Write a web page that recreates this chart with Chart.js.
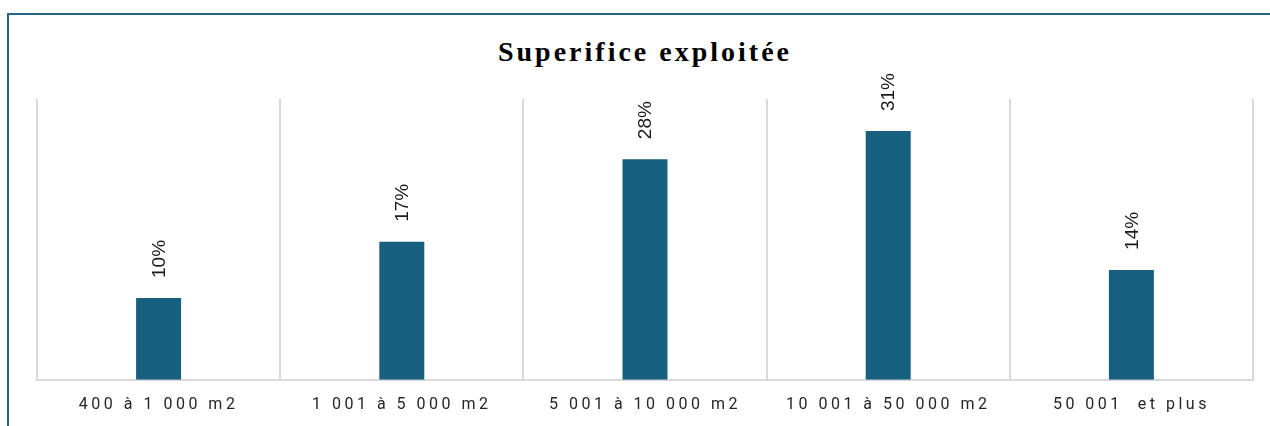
<!DOCTYPE html>
<html lang="fr">
<head>
<meta charset="utf-8">
<title>Superifice exploitée</title>
<script src="https://cdn.jsdelivr.net/npm/chart.js@4"></script>
<style>
  html, body { margin: 0; padding: 0; background: #ffffff; overflow: hidden; }
  .wrap { position: relative; width: 1270px; height: 426px; overflow: hidden; }
  .frame {
    position: absolute; left: 7px; top: 13px; width: 1300px; height: 500px;
    border-left: 2px solid #266685; border-top: 2px solid #266685;
  }
  .chart-title {
    position: absolute; left: 0; top: 38px; width: 1290px; text-align: center;
    font-family: 'Liberation Serif', 'Times New Roman', serif; font-weight: bold;
    font-size: 28px; line-height: 28px; letter-spacing: 3px; color: #000;
  }
  canvas { position: absolute; left: 0; top: 0; }
</style>
</head>
<body>
<div class="wrap">
  <div class="frame"></div>
  <div class="chart-title">Superifice exploitée</div>
  <canvas id="myChart" width="1270" height="443"></canvas>
</div>
<script>
// Data
const categories = ['400 à 1 000 m2', '1 001 à 5 000 m2', '5 001 à 10 000 m2', '10 001 à 50 000 m2', '50 001  et plus'];
const shares = [10.2, 17.2, 27.5, 31.0, 13.7];
const shareLabels = ['10%', '17%', '28%', '31%', '14%'];

// letter spacing for the category labels
const spacedTicks = {
  id: 'spacedTicks',
  beforeDraw(chart) { chart.ctx.letterSpacing = '3.5px'; },
  beforeDatasetsDraw(chart) { chart.ctx.letterSpacing = '0px'; }
};

// rotated value labels above each bar
const barValues = {
  id: 'barValues',
  afterDatasetsDraw(chart) {
    const ctx = chart.ctx;
    const meta = chart.getDatasetMeta(0);
    ctx.save();
    ctx.font = "19px 'Liberation Sans', Arial, sans-serif";
    ctx.fillStyle = '#1a1a1a';
    ctx.textAlign = 'left';
    ctx.textBaseline = 'middle';
    meta.data.forEach((bar, i) => {
      ctx.save();
      ctx.translate(bar.x + 1, bar.y - 20);
      ctx.rotate(-Math.PI / 2);
      ctx.fillText(shareLabels[i], 0, 0);
      ctx.restore();
    });
    ctx.restore();
  }
};

const canvas = document.getElementById('myChart');
new Chart(canvas, {
  type: 'bar',
  data: {
    labels: categories,
    datasets: [{
      data: shares,
      backgroundColor: '#17607f',
      borderWidth: 0,
      barPercentage: 0.185,
      categoryPercentage: 1
    }]
  },
  options: {
    responsive: false,
    animation: false,
    layout: { padding: { left: 37, right: 17, top: 99, bottom: 12 } },
    plugins: {
      legend: { display: false },
      title: { display: false },
      tooltip: { enabled: false }
    },
    scales: {
      x: {
        grid: { color: '#d9d9d9', lineWidth: 2, drawTicks: false, offset: true },
        border: { color: '#d9d9d9', width: 2 },
        ticks: {
          color: '#262626',
          padding: 16,
          maxRotation: 0,
          autoSkip: false,
          font: { family: "Roboto, 'Liberation Sans', sans-serif", size: 16 }
        }
      },
      y: {
        display: false,
        min: 0,
        max: 35
      }
    }
  },
  plugins: [spacedTicks, barValues]
});
</script>
</body>
</html>
